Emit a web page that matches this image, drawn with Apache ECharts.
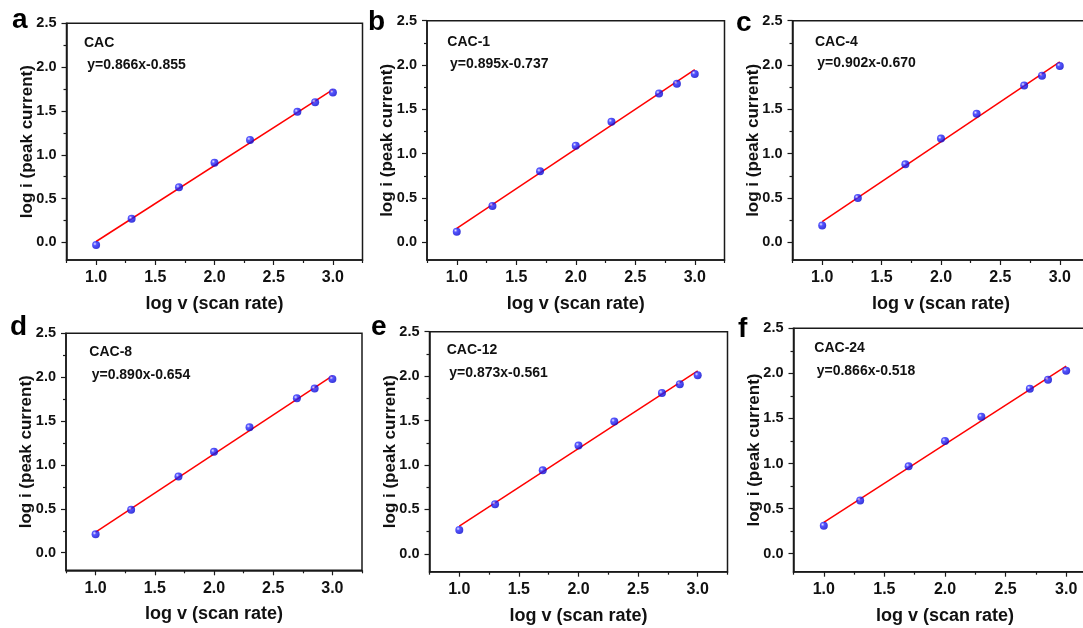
<!DOCTYPE html>
<html>
<head>
<meta charset="utf-8">
<script src="https://cdn.jsdelivr.net/npm/echarts@6/dist/echarts.min.js"></script>
<style>
html,body{margin:0;padding:0;background:#fff;}
#chart{width:1083px;height:628px;}
</style>
</head>
<body>
<div id="chart"></div>
<script>
// ---- data ----
const scanX = [1.0, 1.3, 1.7, 2.0, 2.3, 2.7, 2.85, 3.0];
const panelLetters = ['a', 'b', 'c', 'd', 'e', 'f'];
const sampleNames = ['CAC', 'CAC-1', 'CAC-4', 'CAC-8', 'CAC-12', 'CAC-24'];
const equations = ['y=0.866x-0.855', 'y=0.895x-0.737', 'y=0.902x-0.670',
                   'y=0.890x-0.654', 'y=0.873x-0.561', 'y=0.866x-0.518'];
const yCAC   = [-0.03, 0.27, 0.63, 0.91, 1.17, 1.49, 1.60, 1.71];
const yCAC1  = [0.12, 0.41, 0.80, 1.09, 1.36, 1.68, 1.79, 1.90];
const yCAC4  = [0.19, 0.50, 0.88, 1.17, 1.45, 1.77, 1.88, 1.99];
const yCAC8  = [0.21, 0.49, 0.87, 1.15, 1.43, 1.76, 1.87, 1.98];
const yCAC12 = [0.27, 0.56, 0.94, 1.22, 1.49, 1.81, 1.91, 2.01];
const yCAC24 = [0.31, 0.59, 0.97, 1.25, 1.52, 1.83, 1.93, 2.03];
const fitX = [1.0, 3.0];
const fitCAC   = [0.011, 1.743];
const fitCAC1  = [0.158, 1.948];
const fitCAC4  = [0.232, 2.036];
const fitCAC8  = [0.236, 2.016];
const fitCAC12 = [0.312, 2.058];
const fitCAC24 = [0.348, 2.080];
const xMajorTicks = [1.0, 1.5, 2.0, 2.5, 3.0];
const xMinorTicks = [0.75, 1.25, 1.75, 2.25, 2.75, 3.25];
const yMajorTicks = [0, 0.5, 1.0, 1.5, 2.0, 2.5];
const yMinorTicks = [0.25, 0.75, 1.25, 1.75, 2.25];
const xTitle = 'log v (scan rate)';
const yTitle = 'log i (peak current)';

const ySeries = [yCAC, yCAC1, yCAC4, yCAC8, yCAC12, yCAC24];
const fitSeries = [fitCAC, fitCAC1, fitCAC4, fitCAC8, fitCAC12, fitCAC24];

// ---- layout (pixels) ----
const grids = [
  {left: 66.5, top: 23.3, width: 296, height: 236.7},
  {left: 427, top: 20.7, width: 297.5, height: 239.3},
  {left: 792.5, top: 20.7, width: 297, height: 239.3},
  {left: 66, top: 333.3, width: 296, height: 237},
  {left: 429.5, top: 331.7, width: 298, height: 240},
  {left: 793.5, top: 328.3, width: 303, height: 243.4}
];
const letterPos = [[12, 20], [368, 22], [736, 23], [10, 327], [371, 327], [738, 329]];
const namePos = [[84, 42.7], [447.3, 42.3], [815, 42.3], [89.3, 352.3], [446.7, 350], [814.3, 348.3]];
const eqPos = [[87.3, 65], [450, 64.3], [817.3, 63.3], [91.7, 375], [449.3, 372.7], [816.7, 371]];

const FONT = '"Liberation Sans", Arial, sans-serif';
const AX = '#1a1a1a';

const chart = echarts.init(document.getElementById('chart'), null, {renderer: 'canvas'});

const option = {
  backgroundColor: '#fff',
  animation: false,
  grid: [], xAxis: [], yAxis: [], series: [], graphic: []
};

const markerColor = new echarts.graphic.RadialGradient(0.35, 0.35, 0.75, [
  {offset: 0, color: '#e0e0ff'},
  {offset: 0.3, color: '#2a2aff'},
  {offset: 1, color: '#0000c8'}
]);

const fmt = v => Number(v).toFixed(1);

grids.forEach((g, i) => {
  option.grid.push(Object.assign({
    show: true, borderColor: AX, borderWidth: 1.5, backgroundColor: 'transparent',
    containLabel: false, outerBoundsMode: 'none'
  }, g));
  // main x axis (labels + major ticks)
  option.xAxis.push({
    type: 'value', gridIndex: i, position: 'bottom', min: 0.75, max: 3.25,
    axisLine: {show: true, onZero: false, lineStyle: {color: AX, width: 1.5}},
    axisTick: {show: true, inside: false, length: 5, customValues: xMajorTicks, lineStyle: {color: AX, width: 1.2}},
    axisLabel: {show: true, customValues: xMajorTicks, margin: 10, fontSize: 16, fontWeight: 'bold',
                fontFamily: FONT, color: '#111', formatter: fmt},
    splitLine: {show: false},
    name: xTitle, nameLocation: 'middle', nameGap: 35, nameMoveOverlap: false,
    nameTextStyle: {fontSize: 18, fontWeight: 'bold', fontFamily: FONT, color: '#111'}
  });
  // minor-tick x axis
  option.xAxis.push({
    type: 'value', gridIndex: i, position: 'bottom', offset: 0, min: 0.75, max: 3.25,
    axisLine: {show: false, onZero: false},
    axisTick: {show: true, inside: false, length: 3, customValues: xMinorTicks, lineStyle: {color: AX, width: 1.2}},
    axisLabel: {show: false}, splitLine: {show: false}
  });
  option.yAxis.push({
    type: 'value', gridIndex: i, position: 'left', min: -0.2, max: 2.5,
    axisLine: {show: true, onZero: false, lineStyle: {color: AX, width: 1.5}},
    axisTick: {show: true, inside: false, length: 5, customValues: yMajorTicks, lineStyle: {color: AX, width: 1.2}},
    axisLabel: {show: true, customValues: yMajorTicks, margin: 10, fontSize: 14.5, fontWeight: 'bold',
                fontFamily: FONT, color: '#111', formatter: fmt},
    splitLine: {show: false},
    name: yTitle, nameLocation: 'middle', nameGap: 31, nameRotate: 90, nameMoveOverlap: false,
    nameTextStyle: {fontSize: 17, fontWeight: 'bold', fontFamily: FONT, color: '#111'}
  });
  option.yAxis.push({
    type: 'value', gridIndex: i, position: 'left', offset: 0, min: -0.2, max: 2.5,
    axisLine: {show: false, onZero: false},
    axisTick: {show: true, inside: false, length: 3, customValues: yMinorTicks, lineStyle: {color: AX, width: 1.2}},
    axisLabel: {show: false}, splitLine: {show: false}
  });
  option.series.push({
    type: 'line', xAxisIndex: 2 * i, yAxisIndex: 2 * i, z: 2,
    data: fitX.map((x, k) => [x, fitSeries[i][k]]),
    symbol: 'none', lineStyle: {color: '#ff0000', width: 1.5}, silent: true
  });
  option.series.push({
    type: 'scatter', xAxisIndex: 2 * i, yAxisIndex: 2 * i, z: 3,
    data: scanX.map((x, k) => [x, ySeries[i][k]]),
    symbol: 'circle', symbolSize: 8,
    itemStyle: {color: markerColor}
  });
  option.graphic.push({
    type: 'text', x: letterPos[i][0], y: letterPos[i][1],
    style: {text: panelLetters[i], font: 'bold 28px ' + FONT, fill: '#000', verticalAlign: 'middle', align: 'left'}
  });
  option.graphic.push({
    type: 'text', x: namePos[i][0], y: namePos[i][1],
    style: {text: sampleNames[i], font: 'bold 14px ' + FONT, fill: '#111', verticalAlign: 'middle', align: 'left'}
  });
  option.graphic.push({
    type: 'text', x: eqPos[i][0], y: eqPos[i][1],
    style: {text: equations[i], font: 'bold 14px ' + FONT, fill: '#111', verticalAlign: 'middle', align: 'left'}
  });
});

chart.setOption(option);
</script>
</body>
</html>
